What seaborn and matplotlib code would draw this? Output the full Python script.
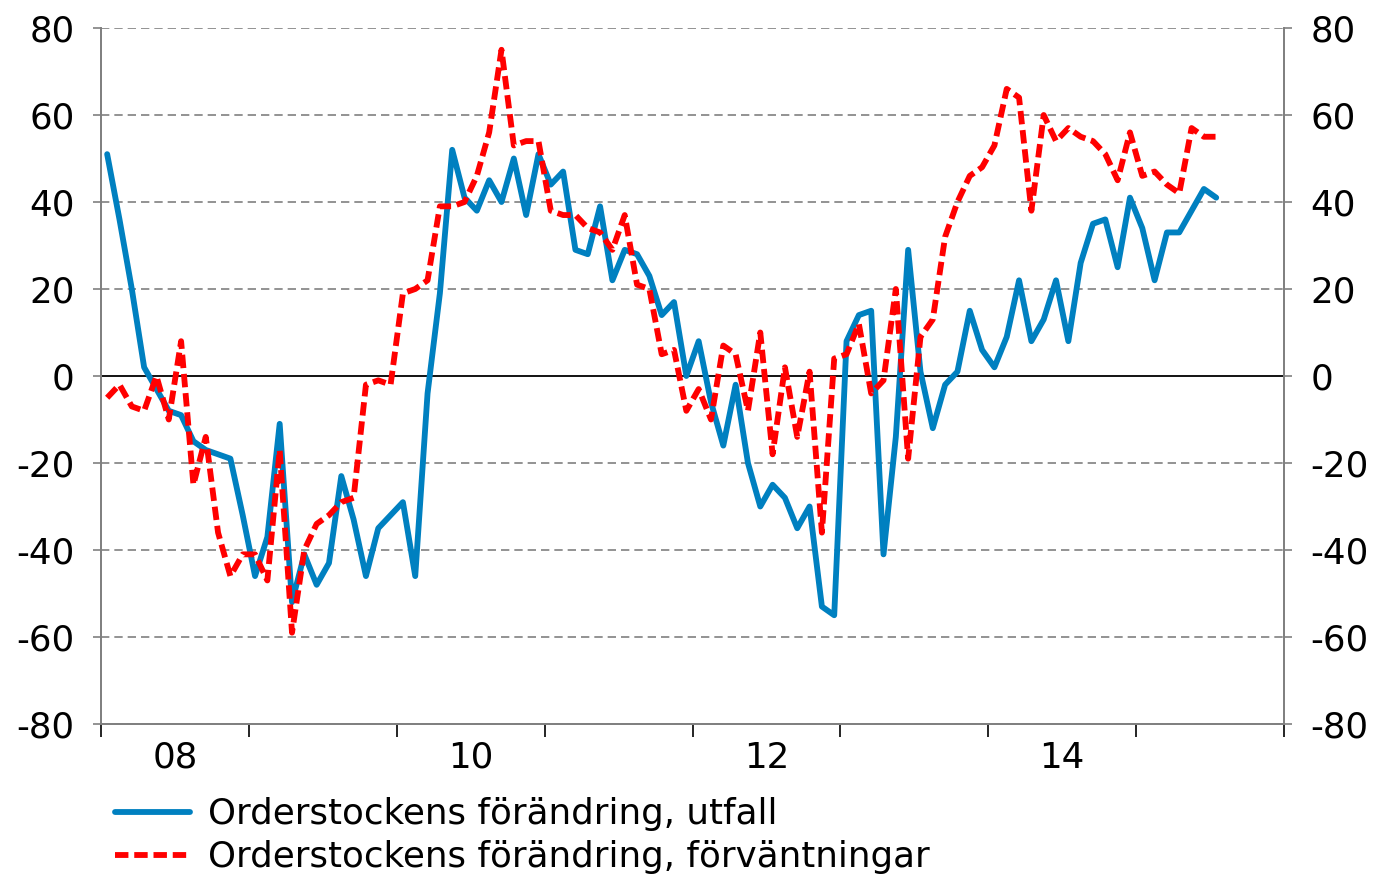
import matplotlib
matplotlib.use("Agg")
import matplotlib.pyplot as plt
import numpy as np
import pandas as pd
import seaborn as sns

# data: monthly, jan 2008 - jul 2015
manader = pd.date_range("2008-01-01", periods=91, freq="MS")

utfall = [
    51, 36, 20, 2, -3, -8, -9, -15, -17, -18, -19, -32,      # 2008
    -46, -37, -11, -52, -41, -48, -43, -23, -33, -46, -35, -32,  # 2009
    -29, -46, -4, 19, 52, 41, 38, 45, 40, 50, 37, 51,        # 2010
    44, 47, 29, 28, 39, 22, 29, 28, 23, 14, 17, 0,           # 2011
    8, -6, -16, -2, -20, -30, -25, -28, -35, -30, -53, -55,  # 2012
    8, 14, 15, -41, -14, 29, 1, -12, -2, 1, 15, 6,           # 2013
    2, 9, 22, 8, 13, 22, 8, 26, 35, 36, 25, 41,              # 2014
    34, 22, 33, 33, 38, 43, 41,                              # 2015
]

forvantningar = [
    -5, -2, -7, -8, 0, -10, 8, -25, -14, -36, -46, -41,      # 2008
    -41, -47, -17, -59, -40, -34, -32, -29, -28, -2, -1, -2, # 2009
    19, 20, 22, 39, 39, 40, 46, 56, 75, 53, 54, 54,          # 2010
    38, 37, 37, 34, 33, 29, 37, 21, 20, 5, 6, -8,            # 2011
    -3, -10, 7, 5, -8, 10, -18, 2, -14, 1, -36, 4,           # 2012
    5, 12, -4, -1, 20, -19, 9, 13, 32, 40, 46, 48,           # 2013
    53, 66, 64, 38, 60, 54, 57, 55, 54, 51, 45, 56,          # 2014
    46, 47, 44, 42, 57, 55, 55,                              # 2015
]

etiketter = ["Orderstockens förändring, utfall",
             "Orderstockens förändring, förväntningar"]
ar_etiketter = ["08", "10", "12", "14"]

df = pd.DataFrame({
    "tid": manader.year + (manader.month - 0.5) / 12,
    "utfall": utfall,
    "forv": forvantningar,
})

sns.set_theme(style="white")
plt.rcParams["font.family"] = ["DejaVu Sans"]
plt.rcParams["text.color"] = "black"
FS = 25.7

fig = plt.figure(figsize=(13.78, 8.75), dpi=100)
ax = fig.add_axes([101 / 1378, 1 - 724 / 875, (1284 - 101) / 1378, (724 - 28) / 875])

ax.axhline(0, color="black", lw=1.3, zorder=2)
sns.lineplot(data=df, x="tid", y="utfall", ax=ax, color="#0080c0", lw=4.2,
             zorder=3, legend=False)
sns.lineplot(data=df, x="tid", y="forv", ax=ax, color="#ff0000", lw=4.2,
             zorder=4, legend=False)
ax.lines[-1].set_dashes([2.3, 1.0])
ax.lines[-1].set_dash_capstyle("butt")

ax.set_xlim(2008, 2016)
ax.set_ylim(-80, 80)
ax.set_xlabel("")
ax.set_ylabel("")

yt = np.arange(-80, 81, 20)
ax.set_yticks(yt)
ax.set_yticklabels([str(v) for v in yt], fontsize=FS)
for v in yt:
    if v != 0:
        ax.axhline(v, color="#808080", lw=1.2, ls=(0, (5, 3)), zorder=1)

# x: ticks at year boundaries, labels mid-year
ax.set_xticks(np.arange(2008, 2017))
ax.set_xticklabels([""] * 9)
ax.set_xticks([2008.5, 2010.5, 2012.5, 2014.5], minor=True)
ax.set_xticklabels(ar_etiketter, minor=True, fontsize=FS)
ax.tick_params(axis="x", which="major", length=9, width=1.2, color="black",
               direction="out", bottom=True)
ax.tick_params(axis="x", which="minor", length=0, pad=12, bottom=True,
               labelcolor="black")
ax.tick_params(axis="y", length=6, width=1.2, color="#808080", pad=13,
               left=True, labelcolor="black")

for s in ["left", "right", "bottom"]:
    ax.spines[s].set_color("#808080")
    ax.spines[s].set_linewidth(1.3)
ax.spines["top"].set_visible(False)

ax2 = ax.twinx()
ax2.set_ylim(-80, 80)
ax2.set_yticks(yt)
ax2.set_yticklabels([str(v) for v in yt], fontsize=FS)
ax2.tick_params(axis="y", length=6, width=1.2, color="#808080", pad=13,
                right=True, labelcolor="black")
for s in ["left", "right", "bottom"]:
    ax2.spines[s].set_color("#808080")
    ax2.spines[s].set_linewidth(1.3)
ax2.spines["top"].set_visible(False)

fig.legend(ax.lines[1:3], etiketter, loc="upper left",
           bbox_to_anchor=(115 / 1378, 1 - 797 / 875), frameon=False,
           fontsize=FS, handlelength=2.1, handletextpad=0.5,
           labelspacing=0.26, borderpad=0, borderaxespad=0)

fig.savefig("out.png", dpi=100)
